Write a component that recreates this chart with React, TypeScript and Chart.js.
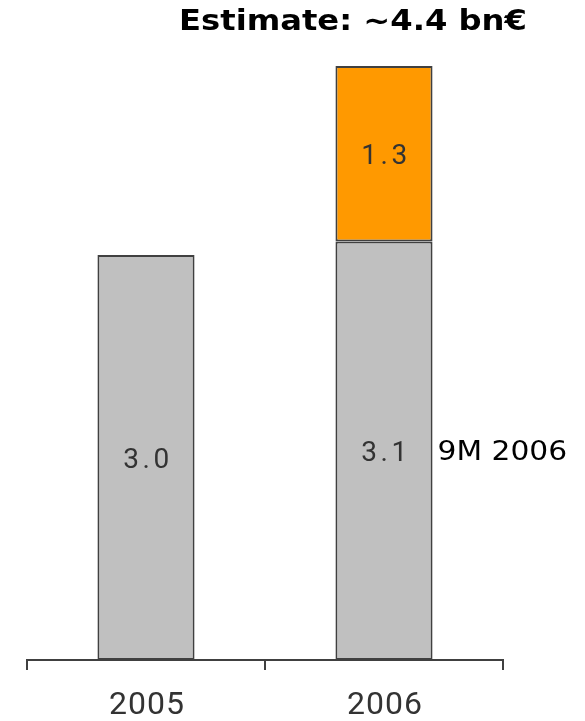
import React, { useEffect, useRef } from "react";
import { Chart, registerables } from "chart.js";

Chart.register(...registerables);

const years = ["2005", "2006"];
const reported = [3.0, 3.1];
const remainder = [null, 1.3];
const reportedNote = "9M 2006";
const headline = "Estimate: ~4.4 bn€";

const GREY = "#c0c0c0";
const ORANGE = "#ff9900";
const EDGE = "#404040";

// draws text stretched horizontally around its anchor
function wideText(ctx: CanvasRenderingContext2D, text: string, x: number, y: number, sx: number) {
  ctx.save();
  ctx.translate(x, y);
  ctx.scale(sx, 1);
  ctx.fillText(text, 0, 0);
  ctx.restore();
}

const labelPlugin = {
  id: "barLabels",
  afterDatasetsDraw(chart: any) {
    const ctx = chart.ctx as CanvasRenderingContext2D;
    ctx.save();
    // values inside each segment
    ctx.font = "28px Roboto";
    ctx.fillStyle = "#333333";
    ctx.textAlign = "center";
    ctx.textBaseline = "middle";
    (ctx as any).letterSpacing = "3.5px";
    chart.data.datasets.forEach((ds: any, di: number) => {
      const meta = chart.getDatasetMeta(di);
      meta.data.forEach((bar: any, i: number) => {
        const v = ds.data[i];
        if (v == null) return;
        const mid = (bar.y + bar.base) / 2;
        ctx.fillText(v.toFixed(1), bar.x + 2, mid + 3);
      });
    });
    // note beside the reported part of the last bar
    const last = chart.getDatasetMeta(0).data[1] as any;
    ctx.font = "27px 'DejaVu Sans'";
    ctx.fillStyle = "#000000";
    ctx.textAlign = "left";
    (ctx as any).letterSpacing = "0px";
    wideText(ctx, reportedNote, last.x + last.width / 2 + 5, (last.y + last.base) / 2 + 2, 1.1);
    // category labels
    const xs = chart.scales.x;
    ctx.font = "32px Roboto";
    ctx.fillStyle = "#333333";
    ctx.textAlign = "center";
    (ctx as any).letterSpacing = "1px";
    years.forEach((y, i) => {
      ctx.fillText(y, xs.getPixelForValue(i) + 1, 706);
    });
    // headline
    ctx.font = "bold 28px 'DejaVu Sans'";
    ctx.fillStyle = "#000000";
    ctx.textAlign = "center";
    (ctx as any).letterSpacing = "0px";
    wideText(ctx, headline, 353, 23, 1.15);
    ctx.restore();
  },
};

export default function App() {
  const ref = useRef<HTMLCanvasElement>(null);
  useEffect(() => {
    document.body.style.margin = "0";
    const chart = new Chart(ref.current!, {
      type: "bar",
      data: {
        labels: years,
        datasets: [
          {
            data: reported,
            backgroundColor: GREY,
            borderColor: EDGE,
            borderWidth: 2,
            borderSkipped: false,
          },
          {
            data: remainder as any,
            backgroundColor: ORANGE,
            borderColor: EDGE,
            borderWidth: 2,
            borderSkipped: false,
          },
        ],
      },
      options: {
        animation: false,
        responsive: false,
        devicePixelRatio: 1,
        layout: { padding: { left: 27, right: 82, top: 12, bottom: 51 } },
        plugins: { legend: { display: false }, tooltip: { enabled: false } },
        datasets: { bar: { categoryPercentage: 1, barPercentage: 0.408 } },
        scales: {
          x: {
            stacked: true,
            offset: true,
            border: { display: true, color: EDGE, width: 2 },
            grid: {
              display: true,
              offset: true,
              drawOnChartArea: false,
              drawTicks: true,
              tickLength: 10,
              color: EDGE,
              lineWidth: 2,
            },
            ticks: { display: false },
          },
          y: {
            stacked: true,
            display: false,
            min: 0,
            max: 4.8,
          },
        },
      },
      plugins: [labelPlugin],
    });
    return () => chart.destroy();
  }, []);
  return <canvas ref={ref} width={585} height={721} style={{ display: "block" }} />;
}
